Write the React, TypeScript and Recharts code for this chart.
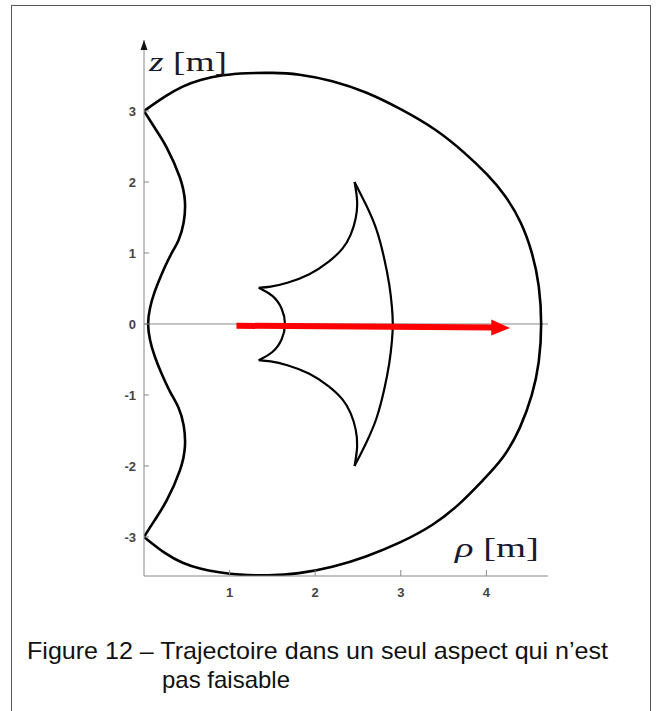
import React from 'react';
import { ComposedChart, Line, XAxis, YAxis, ReferenceLine, ReferenceDot } from 'recharts';

// Outer boundary: big arc from the upper cusp (0,3) round to the lower cusp (0,-3)
const outerArc = [
  { x: 0, y: 3 }, { x: 0.26, y: 3.22 }, { x: 0.45, y: 3.35 }, { x: 0.65, y: 3.44 },
  { x: 0.92, y: 3.51 }, { x: 1.2, y: 3.535 }, { x: 1.5, y: 3.54 }, { x: 1.8, y: 3.525 },
  { x: 2.2, y: 3.43 }, { x: 2.6, y: 3.27 }, { x: 3.0, y: 3.03 }, { x: 3.42, y: 2.74 },
  { x: 3.76, y: 2.4 }, { x: 4.02, y: 2.1 }, { x: 4.22, y: 1.82 }, { x: 4.41, y: 1.44 },
  { x: 4.54, y: 1.0 }, { x: 4.62, y: 0.55 }, { x: 4.65, y: 0 }, { x: 4.62, y: -0.55 },
  { x: 4.54, y: -1.0 }, { x: 4.4, y: -1.47 }, { x: 4.2, y: -1.9 }, { x: 3.96, y: -2.2 },
  { x: 3.7, y: -2.53 }, { x: 3.38, y: -2.84 }, { x: 3.0, y: -3.08 }, { x: 2.6, y: -3.28 },
  { x: 2.2, y: -3.43 }, { x: 1.8, y: -3.52 }, { x: 1.45, y: -3.545 }, { x: 1.1, y: -3.535 },
  { x: 0.88, y: -3.5 }, { x: 0.65, y: -3.45 }, { x: 0.45, y: -3.37 }, { x: 0.26, y: -3.25 },
  { x: 0, y: -3 },
];

// Outer boundary: wavy left side between the two cusps
const outerWave = [
  { x: 0, y: 3 }, { x: 0.12, y: 2.77 }, { x: 0.26, y: 2.52 }, { x: 0.44, y: 2.04 },
  { x: 0.49, y: 1.72 }, { x: 0.47, y: 1.42 }, { x: 0.41, y: 1.17 }, { x: 0.31, y: 0.98 },
  { x: 0.2, y: 0.69 }, { x: 0.12, y: 0.45 }, { x: 0.065, y: 0.22 }, { x: 0.04, y: 0 },
  { x: 0.065, y: -0.22 }, { x: 0.12, y: -0.45 }, { x: 0.2, y: -0.69 }, { x: 0.31, y: -0.98 },
  { x: 0.41, y: -1.17 }, { x: 0.47, y: -1.42 }, { x: 0.49, y: -1.72 }, { x: 0.44, y: -2.04 },
  { x: 0.26, y: -2.52 }, { x: 0.12, y: -2.77 }, { x: 0, y: -3 },
];

// Inner region: right arc between top and bottom cusps
const innerRight = [
  { x: 2.46, y: 2.0 }, { x: 2.6, y: 1.67 }, { x: 2.72, y: 1.35 }, { x: 2.81, y: 0.92 },
  { x: 2.87, y: 0.55 }, { x: 2.9, y: 0.22 }, { x: 2.91, y: 0 }, { x: 2.9, y: -0.22 },
  { x: 2.87, y: -0.55 }, { x: 2.81, y: -0.92 }, { x: 2.72, y: -1.35 }, { x: 2.6, y: -1.67 },
  { x: 2.46, y: -2.0 },
];

// Inner region: upper concave edge (top cusp to upper-left cusp)
const innerUpper = [
  { x: 2.46, y: 2.0 }, { x: 2.5, y: 1.72 }, { x: 2.48, y: 1.49 }, { x: 2.42, y: 1.25 },
  { x: 2.33, y: 1.06 }, { x: 2.17, y: 0.88 }, { x: 1.94, y: 0.69 }, { x: 1.66, y: 0.57 },
  { x: 1.47, y: 0.52 }, { x: 1.34, y: 0.51 },
];

// Inner region: lower concave edge (bottom cusp to lower-left cusp)
const innerLower = [
  { x: 2.46, y: -2.0 }, { x: 2.5, y: -1.72 }, { x: 2.48, y: -1.49 }, { x: 2.42, y: -1.25 },
  { x: 2.33, y: -1.06 }, { x: 2.17, y: -0.88 }, { x: 1.94, y: -0.69 }, { x: 1.66, y: -0.57 },
  { x: 1.47, y: -0.52 }, { x: 1.34, y: -0.51 },
];

// Inner region: small left arc between the two left cusps
const innerSmall = [
  { x: 1.34, y: 0.51 }, { x: 1.51, y: 0.41 }, { x: 1.62, y: 0.22 }, { x: 1.66, y: 0 },
  { x: 1.62, y: -0.22 }, { x: 1.51, y: -0.41 }, { x: 1.34, y: -0.51 },
];

// Red trajectory arrow
const arrowShaft = [
  { x: 1.08, y: -0.025 },
  { x: 4.1, y: -0.05 },
];
const arrowHead = { x: 4.08, y: -0.05 };

const xTicks = [1, 2, 3, 4];
const yTicks = [-3, -2, -1, 0, 1, 2, 3];
const xDomain: [number, number] = [0, 4.72];
const yDomain: [number, number] = [-3.55, 4.0];

const captionLine1 = 'Figure 12 – Trajectoire dans un seul aspect qui n’est';
const captionLine2 = 'pas faisable';

const tickStyle = { fill: '#444', fontSize: 13, fontWeight: 700, fontFamily: 'Liberation Sans, Arial, sans-serif' };

const HeadShape = (props: any) => {
  const { cx, cy } = props;
  return <polygon points={`${cx - 2},${cy - 8} ${cx + 17},${cy + 0.5} ${cx - 2},${cy + 8}`} fill="#ff0000" />;
};

const AxisArrow = (props: any) => {
  const { cx, cy } = props;
  return <polygon points={`${cx},${cy} ${cx - 3.5},${cy + 10} ${cx + 3.5},${cy + 10}`} fill="#111" />;
};

export default function App() {
  const lineProps = {
    dataKey: 'y',
    type: 'basis' as const,
    dot: false,
    activeDot: false,
    isAnimationActive: false,
    stroke: '#000',
  };
  return (
    <div style={{ position: 'absolute', left: 0, top: 0, width: 659, height: 711, background: '#fff', overflow: 'hidden' }}>
      <div
        style={{
          position: 'absolute', left: 11, top: 5, width: 638, height: 740,
          borderLeft: '1.5px solid #555', borderTop: '1.5px solid #555', borderRight: '1.5px solid #555',
        }}
      />
      <ComposedChart
        width={659}
        height={711}
        margin={{ top: 40, right: 111, bottom: 105, left: 84 }}
        style={{ position: 'absolute', left: 0, top: 0 }}
      >
        <XAxis
          type="number"
          dataKey="x"
          domain={xDomain}
          ticks={xTicks}
          allowDataOverflow
          height={30}
          tickSize={-6}
          tickMargin={18}
          stroke="#888"
          tick={tickStyle}
        />
        <YAxis
          type="number"
          domain={yDomain}
          ticks={yTicks}
          allowDataOverflow
          width={60}
          tickSize={-5}
          tickMargin={13}
          stroke="#888"
          tick={tickStyle}
        />
        <ReferenceLine y={0} stroke="#888" strokeWidth={1} />
        <Line {...lineProps} data={outerArc} strokeWidth={2.6} />
        <Line {...lineProps} data={outerWave} strokeWidth={2.6} />
        <Line {...lineProps} data={innerRight} strokeWidth={2.2} />
        <Line {...lineProps} data={innerUpper} strokeWidth={2.2} />
        <Line {...lineProps} data={innerLower} strokeWidth={2.2} />
        <Line {...lineProps} data={innerSmall} strokeWidth={2.2} />
        <Line {...lineProps} type="linear" data={arrowShaft} stroke="#ff0000" strokeWidth={6} />
        <ReferenceDot x={arrowHead.x} y={arrowHead.y} shape={HeadShape} ifOverflow="visible" />
        <ReferenceDot x={0} y={yDomain[1]} shape={AxisArrow} ifOverflow="visible" />
      </ComposedChart>
      <svg width={659} height={711} style={{ position: 'absolute', left: 0, top: 0, pointerEvents: 'none' }}>
        <text x={149} y={71} fontSize={27} fontFamily="Liberation Serif, Times New Roman, serif" fill="#1a1a2e" textLength={78} lengthAdjust="spacingAndGlyphs">
          <tspan fontStyle="italic">z</tspan>
          <tspan> [m]</tspan>
        </text>
        <text x={455} y={557} fontSize={28} fontFamily="Liberation Serif, Times New Roman, serif" fill="#1a1a2e" textLength={84} lengthAdjust="spacingAndGlyphs">
          <tspan fontStyle="italic">ρ</tspan>
          <tspan> [m]</tspan>
        </text>
        <text x={27} y={659} fontSize={24} fontFamily="Liberation Sans, Arial, sans-serif" fill="#111" textLength={581} lengthAdjust="spacingAndGlyphs">
          {captionLine1}
        </text>
        <text x={162} y={688} fontSize={24} fontFamily="Liberation Sans, Arial, sans-serif" fill="#111" textLength={128} lengthAdjust="spacingAndGlyphs">
          {captionLine2}
        </text>
      </svg>
    </div>
  );
}
